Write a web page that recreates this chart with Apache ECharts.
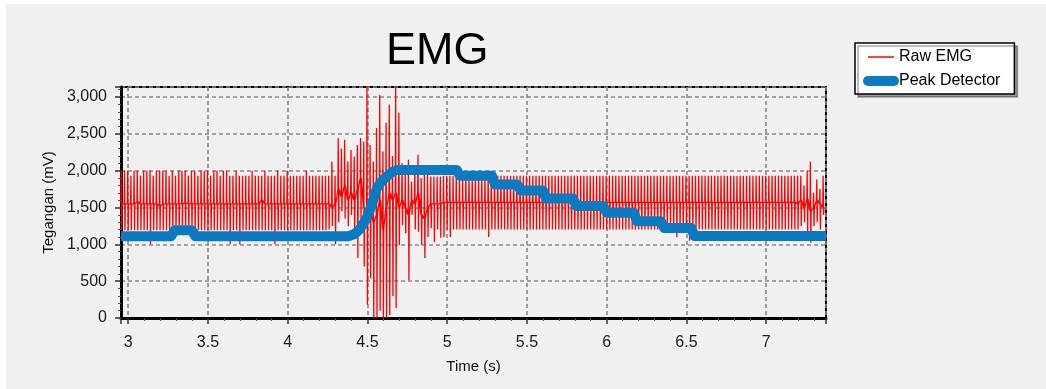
<!DOCTYPE html>
<html>
<head>
<meta charset="utf-8">
<script src="https://cdn.jsdelivr.net/npm/echarts@6/dist/echarts.min.js"></script>
<style>
html,body{margin:0;padding:0;background:#fff;}
#main{width:1046px;height:389px;}
</style>
</head>
<body>
<div id="main"></div>
<script>
//Raw EMG: one cycle every rawStep seconds, starting at rawStart
var rawStart=2.955;
var rawStep=0.02;
var rawHigh=[
2000,2000,2000,1930,2000,2000,1930,2000,2000,2000,1930,2000,2000,2000,2000,1930,2000,1930,2000,2000,
2000,1930,2000,2000,1930,2000,2000,2000,1930,2000,2000,1930,2000,2000,1930,1930,2000,1930,1930,1930,
1930,2000,1930,1930,1930,2000,1930,1930,1930,2000,1930,1930,2000,1930,1930,1930,1930,1930,2000,1930,
1930,1930,1930,1930,1930,
1930,2120,1930,2440,2300,2420,2125,2280,2190,2350,2445,2395,3150,2350,2125,2580,3030,2260,2650,2900,
2200,3150,2785,2100,1980,2150,1850,2050,2215,1900,2000,1990,1920,1920,1920,1920,
1930,1930,1930,1930,1930,1930,1930,1930,1930,1930,1930,1930,1930,1930,1930,1930,1930,1930,1930,1930,
1930,1930,1930,1930,1930,1930,1930,1930,1930,1930,1930,1930,1930,1930,1930,1930,1930,1930,1930,1930,
1930,1930,1930,1930,1930,1930,1930,1930,1930,1930,1930,1930,1930,1930,1930,1930,1930,1930,1930,1930,
1930,1930,1930,1930,1930,1930,1930,1930,1930,1930,1930,1930,1930,1930,1930,1930,1930,1930,1930,1930,
1930,1930,1930,1930,1930,1930,1930,1930,1930,1930,1930,1930,1930,1930,1930,1930,1930,1930,1930,1930,
1930,1930,1930,1930,1930,1930,1930,1930,1930,1930,1930,
1930,1930,1800,2000,2120,1700,1880,1750,1930
];
var rawLow=[
1190,1190,1190,1190,1190,1190,1190,1190,1190,1000,1190,1190,1190,1190,1190,1190,1190,1190,1190,1190,
1190,1190,1190,1190,1190,1190,1190,1190,1190,1190,1190,1190,1190,1190,1000,1190,1190,1000,1190,1190,
1190,1190,1190,1190,1190,1190,1190,1190,1000,1190,1190,1190,1190,1190,1190,1190,1190,1190,1190,1190,
1190,1190,1190,1190,1190,
1200,1250,1000,1300,1450,1350,1250,1400,1150,815,1300,700,180,540,0,0,100,0,0,40,
300,135,990,1260,1150,516,1400,1200,1170,990,815,1100,1220,1030,1200,1090,
1100,1200,1100,1200,1200,1200,1200,1200,1200,1200,1200,1200,1200,1200,1100,1200,1200,1200,1200,1200,
1200,1200,1200,1200,1200,1200,1200,1200,1200,1200,1200,1200,1200,1200,1200,1200,1200,1200,1200,1200,
1200,1200,1200,1200,1200,1200,1200,1200,1200,1200,1200,1200,1200,1200,1200,1200,1200,1200,1200,1200,
1200,1200,1200,1200,1200,1200,1200,1200,1200,1200,1200,1200,1200,1100,1200,1200,1200,1050,1200,1200,
1200,1200,1200,1200,1200,1200,1200,1200,1200,1200,1200,1200,1200,1200,1200,1200,1200,1200,1200,1200,
1200,1200,1200,1200,1200,1200,1200,1200,1200,1200,1200,
1200,1250,1300,1100,1020,1250,1300,1200,1400
];
var rawMid=[
1550,1550,1550,1550,1550,1580,1550,1550,1550,1550,1550,1550,1520,1550,1550,1550,1550,1550,1550,1550,
1560,1550,1550,1550,1550,1550,1550,1550,1550,1550,1550,1550,1550,1550,1550,1550,1550,1550,1550,1550,
1550,1550,1550,1550,1600,1550,1550,1550,1550,1550,1550,1550,1550,1550,1550,1550,1550,1550,1550,1550,
1550,1550,1550,1550,1550,
1550,1500,1550,1750,1650,1800,1600,1700,1600,1750,1900,1500,1400,1500,1300,1400,1600,1200,1500,1700,
1600,1700,1500,1600,1500,1400,1600,1550,1700,1400,1350,1500,1550,1550,1550,1550,
1570,1570,1570,1570,1570,1570,1570,1570,1570,1570,1570,1570,1570,1570,1570,1570,1570,1570,1570,1570,
1570,1570,1570,1570,1570,1570,1570,1570,1570,1570,1570,1570,1570,1570,1570,1570,1570,1570,1570,1570,
1570,1570,1570,1570,1570,1570,1570,1570,1570,1570,1570,1570,1570,1570,1570,1570,1570,1570,1570,1570,
1570,1570,1570,1570,1570,1570,1570,1570,1570,1570,1570,1570,1570,1570,1570,1570,1570,1570,1570,1570,
1570,1570,1570,1570,1570,1570,1570,1570,1570,1570,1570,1570,1570,1570,1570,1570,1570,1570,1570,1570,
1570,1570,1570,1570,1570,1570,1570,1570,1570,1570,1570,
1550,1600,1500,1620,1450,1500,1600,1550,1500
];
//Peak Detector
var peakTime=[2.955,3.27,3.29,3.40,3.42,4.38,4.42,4.45,4.47,4.50,4.52,4.56,4.59,4.62,4.66,4.68,5.06,5.08,
5.28,5.30,5.44,5.46,5.60,5.62,5.79,5.81,5.98,6.00,6.17,6.19,6.34,6.36,6.53,6.55,7.375];
var peakValue=[1110,1110,1190,1190,1110,1110,1140,1200,1264,1380,1495,1766,1860,1920,1990,2010,2010,1930,
1930,1812,1812,1732,1732,1621,1621,1519,1519,1429,1429,1314,1314,1223,1223,1114,1114];

var xMin=2.955, xMax=7.375, yMax=3136;

function buildRaw(){
    var arr=[];
    for(var i=0;i<rawHigh.length;i++){
        var t=rawStart+i*rawStep;
        arr.push([t,rawMid[i]]);
        arr.push([t+0.002,rawHigh[i]]);
        arr.push([t+0.005,rawLow[i]]);
        arr.push([t+0.007,rawMid[i]]);
    }
    return arr;
}
function buildPeak(){
    var arr=[];
    for(var i=0;i<peakTime.length;i++){
        arr.push([peakTime[i],peakValue[i]]);
    }
    return arr;
}

var fontFam='"Liberation Sans", Arial, sans-serif';
var chartDom=document.getElementById('main');
var myChart=echarts.init(chartDom);
var option={
    animation:false,
    backgroundColor:'#fff',
    graphic:[{
        type:'rect',
        shape:{x:6,y:4,width:1040,height:385},
        style:{fill:'#F0F0F0'},
        z:-10
    }],
    title:{
        text:'EMG',
        left:381,
        top:24,
        textStyle:{
            fontFamily:fontFam,
            fontSize:45,
            fontWeight:'normal',
            color:'#000'
        }
    },
    legend:{
        orient:'vertical',
        left:855,
        top:43,
        padding:[6,14,5,8],
        itemGap:8,
        itemWidth:26,
        itemHeight:14,
        backgroundColor:'#fff',
        borderColor:'#000',
        borderWidth:1.5,
        borderRadius:0,
        shadowColor:'rgba(0,0,0,0.35)',
        shadowBlur:0,
        shadowOffsetX:3,
        shadowOffsetY:3,
        itemStyle:{opacity:0},
        textStyle:{
            fontFamily:fontFam,
            fontSize:16,
            color:'#000'
        },
        data:[
            {name:'Raw EMG',lineStyle:{width:1.5,color:'#FF0000'}},
            {name:'Peak Detector',lineStyle:{width:10,color:'#0A7BC1',cap:'round'}}
        ]
    },
    grid:{
        left:121,
        right:220,
        top:87,
        bottom:71,
        show:true,
        borderColor:'#000',
        borderWidth:2,
        backgroundColor:'transparent'
    },
    xAxis:{
        type:'value',
        min:xMin,
        max:xMax,
        minInterval:0.5,
        maxInterval:0.5,
        splitNumber:9,
        name:'Time (s)',
        nameLocation:'middle',
        nameGap:41,
        nameTextStyle:{fontFamily:fontFam,fontSize:15,color:'#111'},
        axisLine:{lineStyle:{color:'#000',width:3}},
        axisTick:{length:6,lineStyle:{color:'#333',width:1.5}},
        minorTick:{show:true,splitNumber:5,length:3,lineStyle:{color:'#555'}},
        axisLabel:{
            fontFamily:fontFam,
            fontSize:16,
            color:'#1a1a1a',
            margin:17,
            formatter:function(v){
                if(Math.abs(v*2-Math.round(v*2))>1e-6){
                    return '';
                }
                return String(Math.round(v*10)/10);
            }
        },
        splitLine:{lineStyle:{color:'#888',width:1.6,type:[4,3]}}
    },
    yAxis:{
        type:'value',
        min:0,
        max:yMax,
        interval:500,
        name:'Tegangan (mV)',
        nameLocation:'middle',
        nameGap:63,
        nameTextStyle:{fontFamily:fontFam,fontSize:15,color:'#111'},
        axisLine:{show:true,lineStyle:{color:'#000',width:3}},
        axisTick:{show:true,length:6,lineStyle:{color:'#333',width:1.5}},
        minorTick:{show:true,splitNumber:5,length:3,lineStyle:{color:'#555'}},
        axisLabel:{
            fontFamily:fontFam,
            fontSize:16,
            color:'#1a1a1a',
            margin:14,
            formatter:function(v){
                if(v%500!==0){
                    return '';
                }
                return v.toLocaleString('en-US');
            }
        },
        splitLine:{lineStyle:{color:'#888',width:1.6,type:[4,3]}}
    },
    series:[{
        name:'Raw EMG',
        type:'line',
        symbol:'none',
        sampling:null,
        clip:true,
        data:buildRaw(),
        lineStyle:{color:'#FF0000',width:1.3},
        itemStyle:{color:'#FF0000'}
    },{
        name:'Peak Detector',
        type:'line',
        symbol:'none',
        clip:true,
        data:buildPeak(),
        lineStyle:{color:'#0A7BC1',width:10,cap:'butt',join:'round'},
        itemStyle:{color:'#0A7BC1'}
    }]
};
myChart.setOption(option);
</script>
</body>
</html>
